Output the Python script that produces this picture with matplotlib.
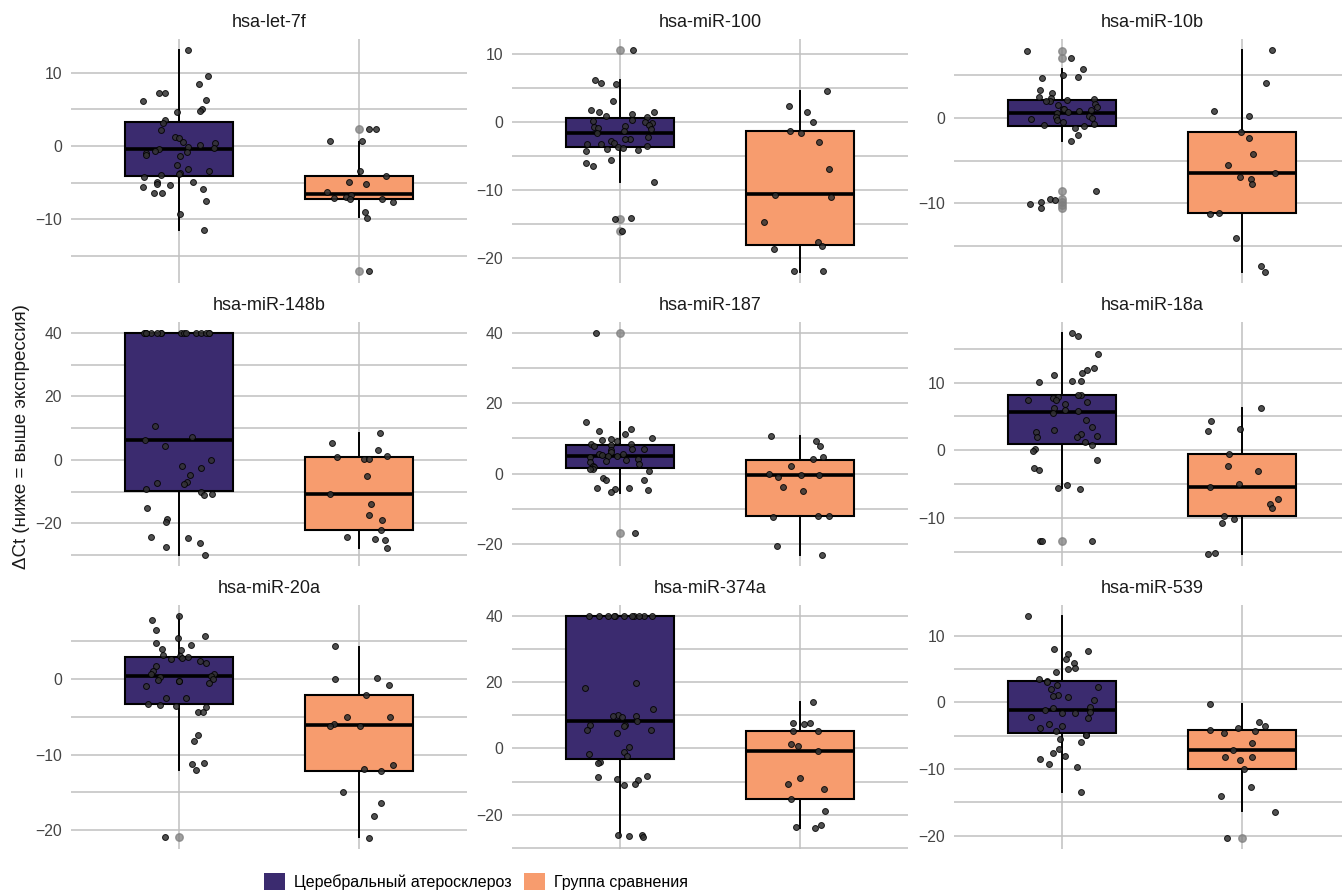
import numpy as np
import matplotlib
matplotlib.use("Agg")
import matplotlib.pyplot as plt
from matplotlib.patches import Patch
from matplotlib.ticker import MultipleLocator

plt.rcParams['font.family'] = ['Liberation Sans', 'DejaVu Sans']

# ---------------- data ----------------
groups = ["Церебральный атеросклероз", "Группа сравнения"]
mirnas = ["hsa-let-7f", "hsa-miR-100", "hsa-miR-10b",
          "hsa-miR-148b", "hsa-miR-187", "hsa-miR-18a",
          "hsa-miR-20a", "hsa-miR-374a", "hsa-miR-539"]

# individual dCt values (jittered points)
let7f_ca = [13.1, 9.55, 8.45, 7.2, 7.2, 6.27, 6.2, 5.0, 4.77, 4.6, 3.55, 3.1, 2.14, 1.27, 1.05, 0.55, 0.45, 0.09,
            -0.18, -0.32, -0.45, -0.64, -0.77, -0.9, -1.18, -1.4, -2.55, -3.36, -3.2, -3.73, -3.82, -3.9, -4.27,
            -4.86, -4.9, -5.23, -5.27, -5.55, -5.82, -6.36, -6.45, -7.5, -9.3, -11.5]
let7f_ctrl = [2.27, 2.27, 0.64, 0.64, -3.4, -4.1, -4.86, -5.23, -6.23, -6.68, -6.9, -7.1, -7.27, -7.27, -7.64,
              -9.05, -9.77, -17.1]
mir100_ca = [10.6, 6.2, 5.7, 5.8, 3.1, 1.75, 1.5, 1.5, 1.2, 0.9, 0.8, 0.35, 0.25, 0.0, -0.15, -0.45, -0.55, -0.75,
             -0.85, -1.03, -1.27, -1.6, -2.1, -2.4, -2.5, -2.8, -3.1, -3.2, -3.23, -3.5, -3.6, -3.8, -3.9, -4.1,
             -4.15, -5.6, -5.9, -6.4, -8.7, -14.1, -14.2, -16.0]
mir100_ctrl = [4.66, 2.4, 1.47, 0.0, -1.23, -1.6, -2.9, -6.86, -10.6, -11.0, -14.6, -17.6, -18.1, -18.6, -21.9, -21.9]
mir10b_ca = [7.9, 7.0, 5.7, 5.04, 4.77, 4.73, 3.28, 2.97, 2.5, 2.3, 2.27, 2.07, 2.03, 2.0, 1.64, 1.48, 1.33, 1.1,
             1.0, 0.94, 0.82, 0.66, 0.55, 0.23, 0.16, -0.04, -0.12, -0.23, -0.47, -0.66, -0.86, -0.94, -1.13,
             -2.03, -2.73, -8.55, -9.5, -9.6, -9.84, -10.04, -10.6]
mir10b_ctrl = [7.97, 4.1, 0.82, 0.2, -1.6, -2.3, -4.18, -5.47, -6.5, -6.88, -7.15, -7.77, -11.17, -11.25, -14.1,
               -17.4, -18.0]
mir148b_ca = [40.0, 40.0, 40.0, 40.0, 40.0, 40.0, 40.0, 40.0, 40.0, 40.0, 40.0, 40.0, 40.0, 40.0, 40.0, 40.0,
              10.8, 7.1, 6.3, 4.5, 0.1, -2.0, -2.4, -4.7, -7.1, -7.3, -7.7, -9.3, -10.0, -10.6, -10.9, -15.3,
              -18.5, -19.6, -24.4, -24.7, -26.2, -27.4, -29.9]
mir148b_ctrl = [8.5, 5.35, 3.15, 1.15, 0.94, 0.4, 0.2, -5.1, -10.7, -13.85, -17.5, -18.8, -22.0, -24.3, -24.9,
                -25.2, -27.8]
mir187_ca = [40.0, 14.7, 12.7, 12.1, 11.3, 10.0, 9.9, 9.7, 9.3, 8.5, 8.3, 8.0, 7.9, 7.1, 6.9, 6.6, 6.05, 5.7, 5.5,
             5.2, 5.1, 4.9, 4.8, 4.1, 3.9, 3.5, 3.3, 2.8, 2.3, 2.0, 1.3, 1.2, 0.66, -1.3, -1.7, -1.9, -4.0, -4.0,
             -4.35, -4.6, -5.1, -16.8]
mir187_ctrl = [10.6, 9.3, 7.85, 4.8, 4.07, 2.18, 0.0, -0.28, -0.47, -1.04, -3.7, -5.0, -11.9, -12.0, -12.2,
               -20.4, -23.1]
mir18a_ca = [17.4, 16.9, 14.3, 12.2, 11.8, 11.4, 11.2, 10.3, 10.05, 10.3, 8.18, 8.1, 7.9, 7.7, 7.4, 7.4, 7.2, 6.9,
             6.3, 5.96, 5.8, 5.5, 4.5, 3.4, 3.05, 2.7, 2.4, 2.17, 2.0, 2.0, 1.23, 0.84, 0.15, -0.1, -1.48, -2.56,
             -2.86, -5.1, -5.5, -5.67, -13.35, -13.35, -13.35]
mir18a_ctrl = [6.26, 4.33, 3.1, 2.8, -0.5, -2.3, -3.1, -5.0, -5.4, -7.24, -7.9, -8.6, -9.7, -10.1, -10.8, -15.2,
               -15.4]
mir20a_ca = [8.4, 7.86, 6.5, 5.65, 5.4, 4.77, 4.55, 3.93, 3.84, 3.2, 3.05, 2.87, 2.78, 2.6, 2.38, 2.16, 1.72, 1.06,
             0.66, 0.62, 0.35, 0.26, 0.0, -0.13, -0.26, -0.3, -0.53, -0.88, -2.5, -2.5, -3.27, -3.4, -3.58, -3.7,
             -4.37, -4.4, -7.46, -8.26, -11.17, -11.3, -12.0, -20.9]
mir20a_ctrl = [4.33, 0.09, 0.0, -0.8, -2.16, -5.03, -5.08, -5.9, -6.18, -6.27, -11.35, -11.92, -12.23, -14.92,
               -16.38, -18.1, -21.0]
mir374a_ca = [40.0, 40.0, 40.0, 40.0, 40.0, 40.0, 40.0, 40.0, 40.0, 40.0, 40.0,
              19.6, 18.3, 12.0, 9.95, 9.85, 9.75, 9.45, 8.24, 7.1, 7.1, 6.83, 5.43, 5.5, 4.5, 0.4, -1.2, -1.6,
              -2.2, -4.0, -4.3, -8.24, -8.64, -9.35, -9.65, -10.75, -11.05, -26.0, -26.2, -26.3, -26.8]
mir374a_ctrl = [14.0, 7.54, 7.54, 7.24, 5.33, 5.33, 1.3, 0.8, -0.9, -8.94, -10.75, -12.36, -15.1, -18.8, -23.1,
                -23.8, -24.0]
mir539_ca = [12.95, 7.95, 7.65, 7.3, 6.55, 5.9, 5.15, 5.0, 4.55, 3.45, 3.25, 3.05, 2.55, 2.35, 2.05, 1.05, 1.0,
             0.75, 0.35, -0.75, -0.85, -1.15, -1.45, -1.55, -1.65, -2.2, -2.4, -3.25, -3.55, -3.85, -4.3, -4.85,
             -4.95, -5.45, -6.0, -7.05, -7.65, -8.1, -8.5, -9.2, -9.75, -13.5]
mir539_ctrl = [-0.2, -2.95, -3.55, -3.9, -4.1, -4.35, -4.55, -6.1, -7.2, -8.25, -8.25, -8.7, -9.95, -12.65,
               -14.05, -16.4, -20.3]

# box statistics: [whisker low, Q1, median, Q3, whisker high]
let7f_box_ca = [-11.45, -4.14, -0.45, 3.32, 13.1]
let7f_box_ctrl = [-9.7, -7.27, -6.6, -4.05, 0.6]
mir100_box_ca = [-8.7, -3.63, -1.57, 0.59, 6.2]
mir100_box_ctrl = [-22.0, -18.0, -10.5, -1.23, 4.66]
mir10b_box_ca = [-2.73, -0.94, 0.55, 2.07, 5.7]
mir10b_box_ctrl = [-18.0, -11.17, -6.48, -1.64, 7.97]
mir148b_box_ca = [-29.9, -9.76, 6.3, 40.0, 40.0]
mir148b_box_ctrl = [-27.8, -22.1, -10.7, 0.94, 8.5]
mir187_box_ca = [-5.4, 1.6, 5.1, 8.14, 14.7]
mir187_box_ctrl = [-23.1, -11.9, -0.47, 3.97, 10.6]
mir18a_box_ca = [-5.6, 0.99, 5.7, 8.18, 17.4]
mir18a_box_ctrl = [-15.3, -9.75, -5.47, -0.54, 6.2]
mir20a_box_ca = [-12.0, -3.36, 0.4, 2.91, 8.34]
mir20a_box_ctrl = [-20.97, -12.23, -6.14, -2.16, 4.28]
mir374a_box_ca = [-26.8, -3.2, 8.24, 40.0, 40.0]
mir374a_box_ctrl = [-23.9, -15.18, -0.8, 5.33, 13.97]
mir539_box_ca = [-13.5, -4.6, -1.2, 3.15, 12.95]
mir539_box_ctrl = [-16.35, -9.95, -7.2, -4.15, -0.2]

# boxplot outliers
let7f_out_ca = []
let7f_out_ctrl = [2.27, -17.1]
mir100_out_ca = [10.6, -14.2, -16.0]
mir100_out_ctrl = []
mir10b_out_ca = [7.85, 7.0, -8.55, -9.5, -9.85, -10.15, -10.6]
mir10b_out_ctrl = []
mir148b_out_ca = []
mir148b_out_ctrl = []
mir187_out_ca = [39.9, -16.8]
mir187_out_ctrl = []
mir18a_out_ca = [-13.35]
mir18a_out_ctrl = []
mir20a_out_ca = [-20.9]
mir20a_out_ctrl = []
mir374a_out_ca = []
mir374a_out_ctrl = []
mir539_out_ca = []
mir539_out_ctrl = [-20.3]

points = [(let7f_ca, let7f_ctrl), (mir100_ca, mir100_ctrl), (mir10b_ca, mir10b_ctrl),
          (mir148b_ca, mir148b_ctrl), (mir187_ca, mir187_ctrl), (mir18a_ca, mir18a_ctrl),
          (mir20a_ca, mir20a_ctrl), (mir374a_ca, mir374a_ctrl), (mir539_ca, mir539_ctrl)]
boxes = [(let7f_box_ca, let7f_box_ctrl), (mir100_box_ca, mir100_box_ctrl), (mir10b_box_ca, mir10b_box_ctrl),
         (mir148b_box_ca, mir148b_box_ctrl), (mir187_box_ca, mir187_box_ctrl), (mir18a_box_ca, mir18a_box_ctrl),
         (mir20a_box_ca, mir20a_box_ctrl), (mir374a_box_ca, mir374a_box_ctrl), (mir539_box_ca, mir539_box_ctrl)]
outs = [(let7f_out_ca, let7f_out_ctrl), (mir100_out_ca, mir100_out_ctrl), (mir10b_out_ca, mir10b_out_ctrl),
        (mir148b_out_ca, mir148b_out_ctrl), (mir187_out_ca, mir187_out_ctrl), (mir18a_out_ca, mir18a_out_ctrl),
        (mir20a_out_ca, mir20a_out_ctrl), (mir374a_out_ca, mir374a_out_ctrl), (mir539_out_ca, mir539_out_ctrl)]

# ---------------- layout / style ----------------
colors = ["#3b2b6f", "#f79c6e"]
ylims = [(-18.68, 14.59), (-23.6, 12.25), (-19.34, 9.26),
         (-33.4, 43.4), (-26.2, 43.05), (-17.1, 18.96),
         (-22.5, 9.8), (-30.3, 43.2), (-22.0, 14.6)]
steps = [10, 10, 10, 20, 20, 10, 10, 20, 10]

W, H = 1342, 891
fig = plt.figure(figsize=(W / 100, H / 100), dpi=100)
col_left = [71, 512, 954]
row_top = [39, 322, 605]
pw, ph = 396, 244
grid_c = "#c0c0c0"

rng = np.random.default_rng(7)

for i, name in enumerate(mirnas):
    r, c = divmod(i, 3)
    left = col_left[c]
    width = pw if c < 2 else W - left
    ax = fig.add_axes([left / W, 1 - (row_top[r] + ph) / H, width / W, ph / H])

    stats = []
    for g in range(2):
        b = boxes[i][g]
        stats.append(dict(whislo=b[0], q1=b[1], med=b[2], q3=b[3], whishi=b[4], fliers=outs[i][g]))
    bp = ax.bxp(stats, positions=[1, 2], widths=0.6, patch_artist=True, showcaps=False, manage_ticks=False,
                boxprops=dict(edgecolor="black", linewidth=1.5),
                medianprops=dict(color="black", linewidth=2.6, solid_capstyle="butt"),
                whiskerprops=dict(color="black", linewidth=1.4),
                flierprops=dict(marker='o', markerfacecolor="#7f7f7f", markeredgecolor="#7f7f7f",
                                markersize=5.4, alpha=0.75, linestyle='none'))
    for patch, col in zip(bp['boxes'], colors):
        patch.set_facecolor(col)
    for g in range(2):
        vals = np.asarray(points[i][g])
        xs = (g + 1) + rng.uniform(-0.2, 0.2, size=len(vals))
        ax.scatter(xs, vals, s=18, facecolor="#333333", edgecolor="black", linewidths=0.7,
                   alpha=0.85, zorder=4)

    xmax = 0.4 + width / 180.0
    ax.set_xlim(0.4, xmax)
    ax.set_ylim(*ylims[i])
    for s in ax.spines.values():
        s.set_visible(False)
    ax.yaxis.set_major_locator(MultipleLocator(steps[i]))
    ax.yaxis.set_minor_locator(MultipleLocator(steps[i] / 2))
    ax.set_xticks([1, 2])
    ax.set_xticklabels(["", ""])
    ax.tick_params(axis='both', which='both', length=0)
    ax.tick_params(axis='y', labelsize=11.3, labelcolor="#444444", pad=6.5)
    ax.grid(True, axis='y', which='both', color=grid_c, lw=1.1)
    ax.grid(True, axis='x', which='major', color=grid_c, lw=1.1)
    ax.set_axisbelow(True)

    ax.text(1.5, 1 + 16.5 / ph, name, transform=ax.get_xaxis_transform(), ha='center', va='center',
            fontsize=13, color="#1a1a1a")

fig.text(22 / W, 1 - 437 / H, "ΔCt (ниже = выше экспрессия)", rotation=90, ha='center', va='center',
         fontsize=13.5, color="#1a1a1a")

handles = [Patch(facecolor=colors[0], edgecolor='none'), Patch(facecolor=colors[1], edgecolor='none')]
fig.legend(handles, groups, loc='center', bbox_to_anchor=(476 / W, 1 - 881.5 / H), ncol=2, frameon=False,
           fontsize=11.5, handlelength=1.3, handleheight=1.2, handletextpad=0.55, columnspacing=0.8,
           borderpad=0, borderaxespad=0)

fig.savefig("out.png", dpi=100)
